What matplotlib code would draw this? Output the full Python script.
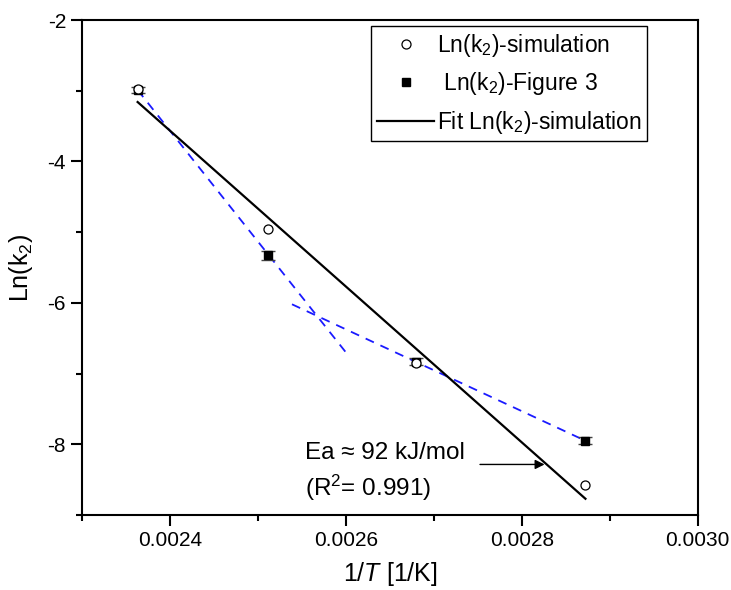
import matplotlib
matplotlib.use('Agg')
import matplotlib.pyplot as plt
import numpy as np
from matplotlib.ticker import MultipleLocator, FormatStrFormatter
from matplotlib.lines import Line2D

plt.rcParams['font.family'] = ['Liberation Sans', 'DejaVu Sans']
plt.rcParams['mathtext.fontset'] = 'custom'
plt.rcParams['mathtext.rm'] = 'Liberation Sans'
plt.rcParams['mathtext.it'] = 'Liberation Sans:italic'

# temperatures (K) -> 1/T
temps = [423.15, 398.15, 373.15, 348.15]
inv_t = [1.0 / t for t in temps]

# Ln(k2) values
ln_k2_sim = [-2.97, -4.96, -6.85, -8.58]
ln_k2_fig3 = [-2.99, -5.33, -6.83, -7.95]
ln_k2_fig3_err = [0.04, 0.07, 0.05, 0.05]

# fit line of the simulation (end points as drawn)
fit_x = [inv_t[0], inv_t[-1]]
fit_y = [-3.16, -8.77]

# blue dashed trend segments
trend1_x = [inv_t[0], 0.002600]
trend1_y = [-2.99, -6.70]
trend2_x = [0.0025387, inv_t[-1]]
trend2_y = [-6.02, -7.95]

fig = plt.figure(figsize=(7.31, 5.90), dpi=100)
ax = fig.add_axes([0.1122, 0.1271, 0.8423, 0.839])

ax.plot(trend1_x, trend1_y, color='#1a1aff', ls=(0, (5, 4)), lw=1.3, zorder=2)
ax.plot(trend2_x, trend2_y, color='#1a1aff', ls=(0, (5, 4)), lw=1.3, zorder=2)

ax.plot(fit_x, fit_y, color='black', lw=1.6, zorder=3)

ax.errorbar(inv_t, ln_k2_fig3, yerr=ln_k2_fig3_err, fmt='s', ms=6, color='black',
            ecolor='#444444', elinewidth=1, capsize=5, capthick=1, zorder=4)
ax.plot(inv_t, ln_k2_sim, 'o', ms=6.5, mfc='white', mec='black', mew=0.9, zorder=5)

ax.text(0.0025538, -8.13, 'Ea \u2248 92 kJ/mol', fontsize=17.5, va='center', ha='left')
ax.text(0.0025538, -8.61, '(R$^2$= 0.991)', fontsize=17.5, va='center', ha='left')
ax.annotate('', xy=(0.002829, -8.285), xytext=(0.0027493, -8.285),
            arrowprops=dict(arrowstyle='-|>', color='black', lw=1, mutation_scale=14))

ax.set_xlim(0.0023, 0.0030)
ax.set_ylim(-9, -2)
ax.xaxis.set_major_locator(MultipleLocator(0.0002))
ax.xaxis.set_minor_locator(MultipleLocator(0.0001))
ax.yaxis.set_major_locator(MultipleLocator(2))
ax.yaxis.set_minor_locator(MultipleLocator(1))
ax.xaxis.set_major_formatter(FormatStrFormatter('%.4f'))
ax.yaxis.set_major_formatter(FormatStrFormatter('%d'))

ax.tick_params(which='both', direction='out', top=False, right=False, width=1.5, labelsize=15)
ax.tick_params(which='major', length=8)
ax.tick_params(which='minor', length=4)
for s in ax.spines.values():
    s.set_linewidth(1.5)

ax.set_xlabel('1/$\\mathit{T}$ [1/K]', fontsize=18, labelpad=7)
ax.set_ylabel('Ln(k$_2$)', fontsize=18, labelpad=9)

# legend entries
handles = [
    Line2D([], [], ls='none', marker='o', ms=6.5, mfc='white', mec='black', mew=0.9),
    Line2D([], [], ls='none', marker='s', ms=6, color='black'),
    Line2D([], [], color='black', lw=1.6),
]
labels = ['Ln(k$_2$)-simulation', ' Ln(k$_2$)-Figure 3', 'Fit Ln(k$_2$)-simulation']
leg = ax.legend(handles, labels, loc='upper right',
                bbox_to_anchor=(0.918, 0.988), borderaxespad=0, fontsize=16.5,
                frameon=True, fancybox=False, edgecolor='black', framealpha=1,
                handlelength=2.5, handletextpad=0.1, borderpad=0.25, labelspacing=0.5)
leg.get_frame().set_linewidth(1)

fig.savefig('out.png', dpi=100)
